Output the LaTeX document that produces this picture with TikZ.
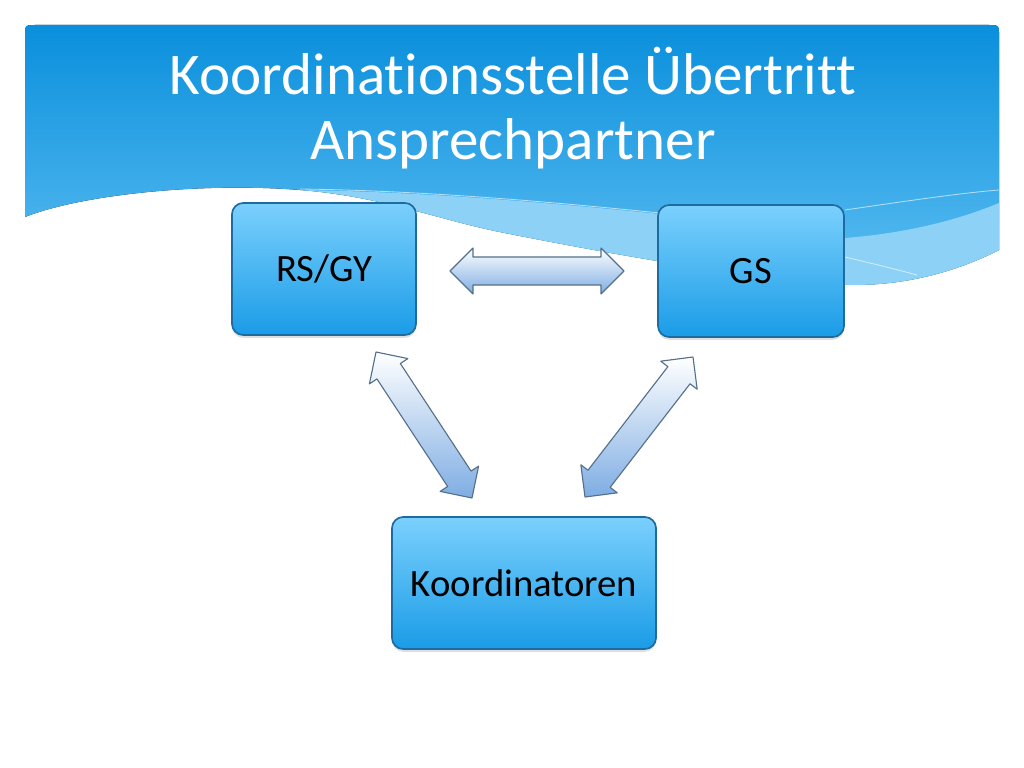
\documentclass[tikz,border=0pt]{standalone}
\usepackage{fontspec}
\setmainfont{Carlito}[Ligatures={NoCommon}]
\usetikzlibrary{calc,shadows}
\definecolor{hdtop}{HTML}{0A8FDC}
\definecolor{hdbot}{HTML}{5CBEF2}
\definecolor{band}{HTML}{8ED1F6}
\definecolor{boxtop}{HTML}{7BD0FD}
\definecolor{boxbot}{HTML}{1A9CE7}
\definecolor{boxline}{HTML}{1F6A9E}
\definecolor{arrbot}{HTML}{7EADE3}
\definecolor{arrline}{HTML}{566F8A}
\tikzstyle{title} = [text=white, anchor=base, inner sep=0pt, font=\fontsize{42}{46}\selectfont]
\tikzstyle{box} = [draw=boxline, line width=1.2pt, rounded corners=8pt, top color=boxtop, bottom color=boxbot, minimum height=3.3cm, font=\fontsize{27.5}{32}\selectfont, drop shadow={shadow xshift=0pt, shadow yshift=-2pt, opacity=0.25}]
\tikzstyle{link} = [draw=arrline, line width=0.8pt, line join=round, top color=white, bottom color=arrbot]
\tikzstyle{wave} = [white, opacity=0.6, line width=0.6pt]
\newcommand{\ahd}{0.575cm}
\newcommand{\ahw}{0.575cm}
\newcommand{\asw}{0.35cm}
% double block arrow between two named coordinates
\newcommand{\dblarrow}[2]{%
  \path[link] (#1)
    -- ($(#1)!\ahd!(#2)!\ahw!90:(#2)$)
    -- ($(#1)!\ahd!(#2)!\asw!90:(#2)$)
    -- ($(#2)!\ahd!(#1)!\asw!-90:(#1)$)
    -- ($(#2)!\ahd!(#1)!\ahw!-90:(#1)$)
    -- (#2)
    -- ($(#2)!\ahd!(#1)!\ahw!90:(#1)$)
    -- ($(#2)!\ahd!(#1)!\asw!90:(#1)$)
    -- ($(#1)!\ahd!(#2)!\asw!-90:(#2)$)
    -- ($(#1)!\ahd!(#2)!\ahw!-90:(#2)$)
    -- cycle;}

\begin{document}
\begin{tikzpicture}[x=0.025cm, y=-0.025cm]
    \useasboundingbox (0,0) rectangle (1024,768);
    % header
    \fill[top color=hdtop, bottom color=hdbot] (25,217) -- (25,35) .. controls (25,25) .. (35,25) -- (989,25) .. controls (999,25) .. (999,35) -- (999,250)
        .. controls (940,280) and (880,288) .. (830,284) .. controls (740,277) and (600,252) .. (500,232)
        .. controls (440,220) and (380,196) .. (300,190) .. controls (200,182) and (80,195) .. (25,217);
    \fill[band] (300,190) .. controls (450,192) and (600,208) .. (680,216) .. controls (760,226) and (800,238) .. (845,238)
        .. controls (920,232) and (970,215) .. (999,203) -- (999,250)
        .. controls (940,280) and (880,288) .. (830,284) .. controls (740,277) and (600,252) .. (500,232)
        .. controls (440,220) and (380,196) .. (300,190);
    \draw[wave] (300,189) .. controls (450,191) and (600,207) .. (680,215);
    \draw[wave] (845,210) .. controls (900,202) and (960,193) .. (999,190);
    \draw[wave] (845,257) .. controls (870,263) and (895,269) .. (917,275);
    \node[title] (t1) at (513,95) {Koordinationsstelle Übertritt};
    \node[title] (t2) at (513,160) {Ansprechpartner};
    % boxes
    \node[box, minimum width=4.6cm] (rs) at (324,269) {RS/GY};
    \node[box, minimum width=4.65cm] (gs) at (751,271) {GS};
    \node[box, minimum width=6.6cm] (ko) at (524,583) {Koordinatoren};
    % arrows
    \coordinate (h1) at (450,271);
    \coordinate (h2) at (624,271);
    \coordinate (l1) at (376,352);
    \coordinate (l2) at (472,498);
    \coordinate (r1) at (693,357);
    \coordinate (r2) at (585,497);
    \dblarrow{h1}{h2}
    \dblarrow{l1}{l2}
    \dblarrow{r1}{r2}
\end{tikzpicture}
\end{document}
